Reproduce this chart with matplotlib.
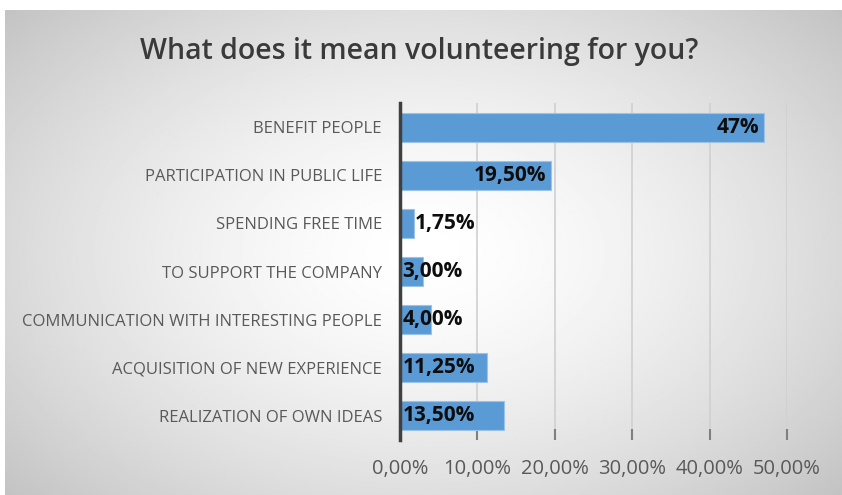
import numpy as np
import matplotlib.pyplot as plt

# survey answers, top to bottom
categories = [
    "BENEFIT PEOPLE",
    "PARTICIPATION IN PUBLIC LIFE",
    "SPENDING FREE TIME",
    "TO SUPPORT THE COMPANY",
    "COMMUNICATION WITH INTERESTING PEOPLE",
    "ACQUISITION OF NEW EXPERIENCE",
    "REALIZATION OF OWN IDEAS",
]
values = [47, 19.5, 1.75, 3.0, 4.0, 11.25, 13.5]
value_labels = ["47%", "19,50%", "1,75%", "3,00%", "4,00%", "11,25%", "13,50%"]
label_place = ["end", "end", "outside", "base", "base", "base", "base"]
ticks = [0, 10, 20, 30, 40, 50]
tick_labels = ["0,00%", "10,00%", "20,00%", "30,00%", "40,00%", "50,00%"]

plt.rcParams["font.family"] = ["Open Sans", "DejaVu Sans"]

W, H = 842, 495
fig = plt.figure(figsize=(W / 100, H / 100), dpi=100)
fig.patch.set_facecolor("white")

# radial grey background of the chart frame
bg = fig.add_axes([5 / W, 0, 1 - 5 / W, 1 - 10 / H])
yy, xx = np.mgrid[0:1:300j, 0:1:500j]
r = np.sqrt(((xx - 0.5) / 0.72) ** 2 + ((yy - 0.5) / 0.8) ** 2)
shade = 1.0 - 0.26 * np.clip(r, 0, 1) ** 1.5
bg.imshow(shade, cmap="gray", vmin=0, vmax=1, aspect="auto",
          extent=[0, 1, 0, 1], interpolation="bilinear")
bg.axis("off")

ax = fig.add_axes([400 / W, 1 - 440 / H, 387 / W, 337 / H])
ax.patch.set_alpha(0)

y = np.arange(len(categories))
ax.barh(y, values, height=0.6, color="#5b9bd5", edgecolor="#9cc3e6",
        linewidth=0.8, zorder=3)

for yi, v, txt, place in zip(y, values, value_labels, label_place):
    if place == "end":
        x, ha = v - 0.6, "right"
    elif place == "outside":
        x, ha = v + 0.1, "left"
    else:
        x, ha = 0.35, "left"
    ax.text(x, yi, txt, ha=ha, va="center", fontsize=15,
            fontweight="bold", color="#0d0d0d", zorder=4)

ax.set_xlim(0, 50)
ax.set_ylim(len(categories) - 0.5, -0.5)
ax.set_yticks(y)
ax.set_yticklabels(categories, fontsize=12, color="#595959")
ax.set_xticks(ticks)
ax.set_xticklabels(tick_labels, fontsize=14.5, color="#595959")

ax.grid(axis="x", color="#d0d0d0", linewidth=1.2, zorder=0)
for s in ["top", "right", "bottom"]:
    ax.spines[s].set_visible(False)
ax.spines["left"].set_color("#404040")
ax.spines["left"].set_linewidth(2.5)
ax.spines["left"].set_zorder(5)

ax.tick_params(axis="y", length=0, pad=13)
ax.tick_params(axis="x", direction="in", length=8, width=1.5,
               color="#808080", pad=14)

fig.text(419 / W, 1 - 52 / H, "What does it mean volunteering for you?",
         ha="center", va="center", fontsize=20.5, fontweight="semibold",
         color="#3a3a3a")

fig.savefig("out.png", dpi=100)
